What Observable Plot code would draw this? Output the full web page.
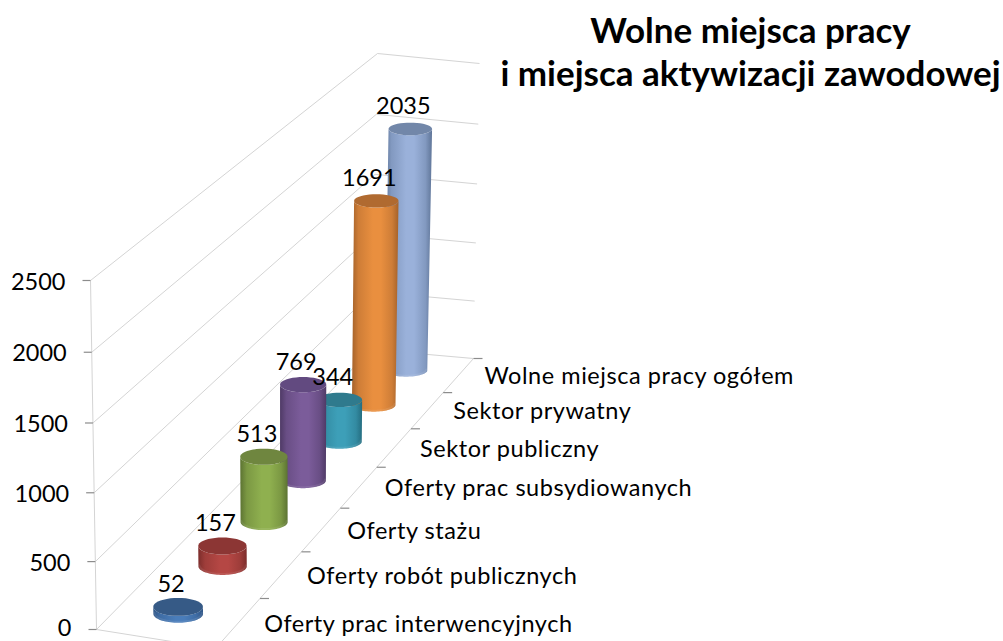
<!DOCTYPE html>
<html><head><meta charset="utf-8">
<script src="https://cdn.jsdelivr.net/npm/d3@7"></script>
<script src="https://cdn.jsdelivr.net/npm/@observablehq/plot@0.6"></script>
<style>html,body{margin:0;padding:0;background:#fff}svg{display:block}</style>
</head><body><div id="chart"></div>
<script>
// ---- data
const categories = ["Oferty prac interwencyjnych","Oferty robót publicznych","Oferty stażu","Oferty prac subsydiowanych","Sektor publiczny","Sektor prywatny","Wolne miejsca pracy ogółem"];
const values = [52,157,513,769,344,1691,2035];
const valueTicks = [0,500,1000,1500,2000,2500];
const titleLines = ["Wolne miejsca pracy","i miejsca aktywizacji zawodowej"];
// centre / edge / top shades of each cylinder
const bodyCentre = ["#4a7dba","#b54744","#8fb04f","#7b5c9a","#3d9fb8","#e98f3f","#9ab1da"];
const bodyEdge   = ["#2f5586","#7c2d2b","#5c7332","#4f3a66","#246d80","#a5622a","#5f7598"];
const topShade   = ["#365a86","#8c3634","#6f863f","#624a80","#2f7a8d","#b06a30","#7287a9"];

// ---- perspective box: the eight projected corners of the chart's 3D frame
const nCat = categories.length, vMax = 2500;
const corners = {
  "000":[96,629],"100":[371,349],"110":[473,358],"010":[215,648],
  "001":[90,280],"101":[377,53],"111":[479,63],"011":[209,299]
};
const depthT = d => (d/nCat)*1.25/(1+0.25*d/nCat);
const valueT = v => { const a=v/vMax; return a*0.9662/(1-0.0338*a); };
function P(d,u,v){
  const t=depthT(d), w=valueT(v), out=[0,0];
  for (const a of [0,1]) for (const b of [0,1]) for (const c of [0,1]) {
    const k=(a?t:1-t)*(b?u:1-u)*(c?w:1-w), p=corners[`${a}${b}${c}`];
    out[0]+=k*p[0]; out[1]+=k*p[1];
  }
  return {x:out[0],y:out[1]};
}
const seg=(a,b)=>({x1:a.x,y1:a.y,x2:b.x,y2:b.y});

// frame rows
const gridRows=[];
for(const v of valueTicks){
  gridRows.push(seg(P(0,0,v),P(nCat,0,v)));
  gridRows.push(seg(P(nCat,0,v),P(nCat,1,v)));
}
gridRows.push(seg(P(0,0,0),P(0,0,vMax)));
gridRows.push(seg(P(0,0,0),P(0,1,0)));
gridRows.push(seg(P(0,1,0),P(nCat,1,0)));

const tickRows=[];
for(const v of valueTicks){const p=P(0,0,v);tickRows.push(seg({x:p.x-8,y:p.y},p));}
for(let d=0;d<=nCat;d++){const p=P(d,1,0);tickRows.push(seg(p,{x:p.x+9,y:p.y}));}

const valueLabels=valueTicks.map(v=>{const p=P(0,0,v);return {x:p.x-25,y:Math.min(p.y+1.5,627.5),t:String(v)};});
const catLabels=categories.map((c,i)=>{const p=P(i+.5,1,0);return {x:p.x+26,y:p.y+1.5,t:c};});

// cylinders: an ellipse outline at the projected base and top of each value
function arc(cx,cy,rx,ry,a0,a1){
  const n=40,o=[];
  for(let i=0;i<=n;i++){const a=a0+(a1-a0)*i/n;o.push({x:cx+rx*Math.cos(a),y:cy+ry*Math.sin(a)});}
  return o;
}
const cyl=values.map((val,i)=>{
  const d=i+.5, b=P(d,.49,0), t=P(d,.49,val);
  const rx=25.2/(1+.2*d/nCat), ry=9.2-.45*d, rxT=rx*(1+.03*valueT(val));
  return {
    body:[...arc(b.x,b.y,rx,ry,Math.PI,0),...arc(t.x,t.y,rxT,ry,0,Math.PI)],
    rim:arc(b.x,b.y-1,rx-1,ry,Math.PI,0),
    top:arc(t.x,t.y,rxT,ry,0,2*Math.PI),
    label:{x:t.x-7,y:t.y-22.5,t:String(val)}
  };
});

const gradients=()=>{
  const defs=d3.create("svg:defs");
  values.forEach((_,i)=>{
    const g=defs.append("linearGradient").attr("id","g"+i).attr("x1",0).attr("x2",1).attr("y1",0).attr("y2",0);
    const mid=d3.interpolateRgb(bodyEdge[i],bodyCentre[i])(.6);
    [[0,bodyEdge[i]],[.14,mid],[.45,bodyCentre[i]],[.62,bodyCentre[i]],[.86,mid],[1,bodyEdge[i]]]
      .forEach(([o,c])=>g.append("stop").attr("offset",o).attr("stop-color",c));
  });
  return defs.node();
};

const font="Lato";
const cylMarks=[];
for(let i=values.length-1;i>=0;i--){
  cylMarks.push(Plot.line(cyl[i].body,{x:"x",y:"y",fill:`url(#g${i})`,stroke:"none"}));
  cylMarks.push(Plot.line(cyl[i].rim,{x:"x",y:"y",stroke:"#fff",strokeOpacity:.09,strokeWidth:2}));
  cylMarks.push(Plot.line(cyl[i].top,{x:"x",y:"y",fill:topShade[i],stroke:"none"}));
}
const chart=Plot.plot({
  width:1003,height:641,margin:0,
  x:{domain:[0,1003],range:[0,1003],axis:null},
  y:{domain:[0,641],range:[0,641],axis:null},
  style:{background:"#fff"},
  marks:[
    gradients,
    Plot.link(gridRows,{x1:"x1",y1:"y1",x2:"x2",y2:"y2",stroke:"#d4d4d4",strokeWidth:1}),
    Plot.link(tickRows,{x1:"x1",y1:"y1",x2:"x2",y2:"y2",stroke:"#8c8c8c",strokeWidth:1.2}),
    ...cylMarks,
    Plot.text(valueLabels,{x:"x",y:"y",text:"t",textAnchor:"end",fontFamily:font,fontSize:23.5,fill:"#000"}),
    Plot.text(catLabels,{x:"x",y:"y",text:"t",textAnchor:"start",fontFamily:font,fontSize:23.5,fill:"#000"}),
    Plot.text(cyl.map(c=>c.label),{x:"x",y:"y",text:"t",fontFamily:font,fontSize:23.5,fill:"#000"}),
    Plot.text(titleLines.map((t,i)=>({t,x:750,y:31+43.5*i})),{x:"x",y:"y",text:"t",fontFamily:font,fontSize:35,fontWeight:"bold",fill:"#000"})
  ]
});
chart.querySelectorAll("text").forEach(n=>{ if(categories.includes(n.textContent)) n.style.letterSpacing="0.55px"; });
document.getElementById("chart").append(chart);
</script>
</body></html>
